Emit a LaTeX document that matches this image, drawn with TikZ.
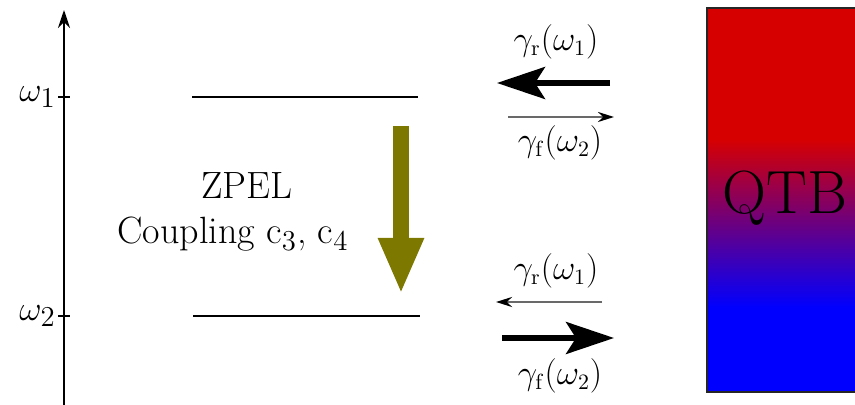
\documentclass[tikz,border=0pt]{standalone}
\usepackage{amsmath}
\usetikzlibrary{arrows.meta,positioning}
\definecolor{qtbred}{RGB}{215,0,0}
\definecolor{qtbblue}{RGB}{0,0,255}
\definecolor{zpelolive}{RGB}{125,120,0}
\definecolor{rategray}{RGB}{105,105,105}
\pgfdeclareverticalshading{qtbshade}{100bp}{color(0bp)=(qtbblue); color(36bp)=(qtbblue); color(58bp)=(qtbred); color(100bp)=(qtbred)}
\newcommand{\rateR}{\(\gamma_\mathrm{r}(\omega_1)\)}
\newcommand{\rateF}{\(\gamma_\mathrm{f}(\omega_2)\)}
\tikzset{
  axisline/.style={-{Stealth[length=9pt,width=6pt]}, line width=1pt},
  level/.style={line width=1.3pt},
  tickmark/.style={line width=1pt},
  strong/.style={-{Stealth[length=24pt,width=16pt,inset=5pt]}, line width=2.6pt},
  weak/.style={-{Stealth[length=8pt,width=5pt,color=black]}, line width=1.2pt, draw=rategray},
  decay/.style={-{Triangle[length=28pt,width=21pt]}, line width=8pt, draw=zpelolive},
  rate/.style={font=\fontsize{16}{18}\selectfont, inner sep=1pt},
  info/.style={font=\fontsize{19}{22}\selectfont, inner sep=1pt}
}

\begin{document}
\begin{tikzpicture}[x=0.5pt, y=-0.5pt]
  \useasboundingbox (0,0) rectangle (855,405);
  % frequency axis
  \coordinate (axbot) at (64,405);
  \coordinate (axtop) at (64,10);
  \coordinate (w1) at (64,97);
  \coordinate (w2) at (64,316);
  \draw[axisline] (axbot) -- (axtop);
  \draw[tickmark] ([xshift=-3pt]w1) -- ([xshift=3pt]w1);
  \draw[tickmark] ([xshift=-3pt]w2) -- ([xshift=3pt]w2);
  \node[info, left=3pt of w1] (w1lab) {\(\omega_1\)};
  \node[info, left=3pt of w2] (w2lab) {\(\omega_2\)};
  % levels
  \coordinate (up1) at (192,97);
  \coordinate (up2) at (418,97);
  \coordinate (lo1) at (193,316);
  \coordinate (lo2) at (420,316);
  \draw[level] (up1) -- (up2);
  \draw[level] (lo1) -- (lo2);
  \coordinate (dtop) at (401,126);
  \coordinate (dbot) at (401,294);
  \draw[decay] (dtop) -- (dbot);
  \node[info] (zpel) at (247,186) {ZPEL};
  \node[info] (coup) at (233,234) {Coupling c\(_3\), c\(_4\)};
  % rates, upper level
  \coordinate (ua) at (610,83);
  \coordinate (ub) at (497,83);
  \coordinate (uc) at (508,117);
  \coordinate (ud) at (614,117);
  \draw[strong] (ua) -- (ub);
  \draw[weak] (uc) -- (ud);
  \node[rate] (urlab) at (556,42) {\rateR};
  \node[rate] (uflab) at (560,143) {\rateF};
  % rates, lower level
  \coordinate (la) at (602,302);
  \coordinate (lb) at (496,302);
  \coordinate (lc) at (502,338);
  \coordinate (ld) at (614,338);
  \draw[weak] (la) -- (lb);
  \draw[strong] (lc) -- (ld);
  \node[rate] (lrlab) at (556,271) {\rateR};
  \node[rate] (lflab) at (560,376) {\rateF};
  % bath
  \shade[shading=qtbshade] (707,8) rectangle (857,392);
  \draw[line width=1pt, draw=black!85] (857,8) -- (707,8) -- (707,392) -- (857,392);
  \node[font=\fontsize{30.5}{34}\selectfont, inner sep=0pt] (qtb) at (785,198) {QTB};
\end{tikzpicture}
\end{document}
